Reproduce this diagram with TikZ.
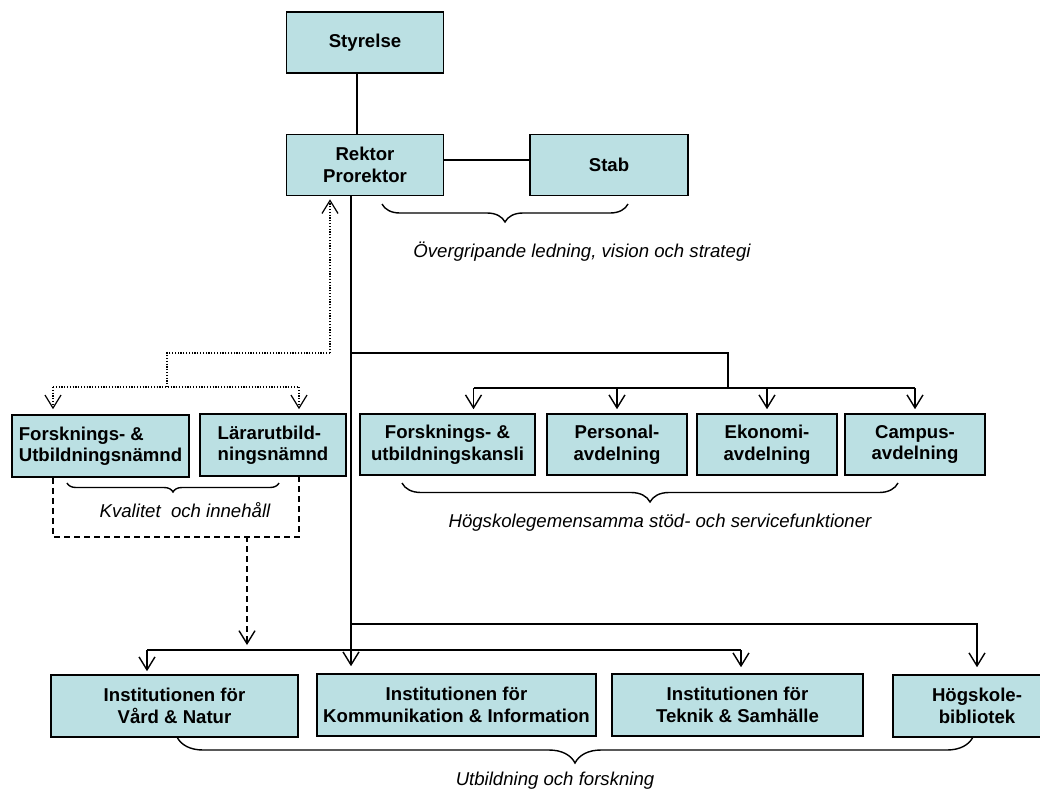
\documentclass[tikz,border=0pt]{standalone}
\usepackage{fontspec}
\setmainfont{Liberation Sans}
\usepackage{tikz}
\usetikzlibrary{arrows.meta, decorations.pathreplacing}
\definecolor{unitfill}{RGB}{187,224,227}
\tikzset{unit/.style={draw, line width=1.6pt, fill=unitfill, align=center, inner sep=2pt, font=\bfseries\fontsize{18.6}{21.5}\selectfont}}
\tikzset{link/.style={line width=1.4pt}}
\tikzset{feed/.style={line width=1.4pt, -{Straight Barb[length=13pt, width=16pt]}}}
\tikzset{advice/.style={line width=1.2pt, dash pattern=on 1.2pt off 1.6pt}}
\tikzset{review/.style={line width=1.4pt, dash pattern=on 6pt off 4pt}}
\tikzset{note/.style={font=\itshape\fontsize{18.6}{21.5}\selectfont}}
\tikzset{group/.style={decorate, line width=1.4pt, decoration={brace, mirror, amplitude=#1}}}
\tikzset{group/.default=18}

\begin{document}
\begin{tikzpicture}[x=1pt, y=-1pt]
            \useasboundingbox (0, 0) rectangle (1040, 790);
            \node[unit, minimum width=157, minimum height=61] (styrelse) at (365, 42.5) {Styrelse};
            \node[unit, minimum width=157, minimum height=61] (rektor) at (365, 165) {Rektor\\Prorektor};
            \node[unit, minimum width=158, minimum height=61] (stab) at (609, 165) {Stab};
            \node[unit, minimum width=177, minimum height=62, align=left] (fun) at (100.5, 446) {Forsknings- \&\\Utbildningsnämnd};
            \node[unit, minimum width=146, minimum height=62, align=left] (lun) at (273, 445) {Lärarutbild-\\ningsnämnd};
            \node[unit, minimum width=175, minimum height=61] (fuk) at (447.5, 444.5) {Forsknings- \&\\utbildningskansli};
            \node[unit, minimum width=140, minimum height=61] (pers) at (617, 444.5) {Personal-\\avdelning};
            \node[unit, minimum width=140, minimum height=61] (ekon) at (767, 444.5) {Ekonomi-\\avdelning};
            \node[unit, minimum width=140, minimum height=61] (camp) at (915, 444.5) {Campus-\\avdelning};
            \node[unit, minimum width=247, minimum height=62] (vard) at (174.5, 706) {Institutionen för\\Vård \& Natur};
            \node[unit, minimum width=279, minimum height=62] (komm) at (456.5, 705) {Institutionen för\\Kommunikation \& Information};
            \node[unit, minimum width=251, minimum height=62] (tekn) at (737.5, 705) {Institutionen för\\Teknik \& Samhälle};
            \node[unit, minimum width=168, minimum height=62] (bibl) at (977, 706) {Högskole-\\bibliotek};
            \coordinate (staff) at (351, 353);
            \coordinate (staffbus) at (728, 388);
            \coordinate (adv) at (330, 353);
            \coordinate (advbus) at (167, 387);
            \coordinate (rev) at (247, 536);
            \coordinate (lib) at (351, 624);
            \coordinate (instbus) at (147, 650);
            \draw[link] ([xshift=-8]styrelse.south) -- ([xshift=-8]rektor.north);
            \draw[link] ([yshift=5]rektor.east) -- ([yshift=5]stab.west);
            \draw[feed] ([xshift=-14]rektor.south) -- ([xshift=-105.5, yshift=7]komm.north);
            \draw[link] (staff) -| (staffbus);
            \draw[link] ([xshift=26]fuk.north |- staffbus) -- (camp.north |- staffbus);
            \foreach \n/\dx in {fuk/26, pers/0, ekon/0, camp/0} {
                \draw[feed] ([xshift=\dx]\n.north |- staffbus) -- ([xshift=\dx, yshift=4]\n.north);
            }
            \draw[feed, advice] (adv) -- ([xshift=-35, yshift=-3]rektor.south);
            \draw[advice] (adv) -| (advbus);
            \draw[advice] ([xshift=-47.5]fun.north |- advbus) -- ([xshift=26]lun.north |- advbus);
            \draw[feed, advice] ([xshift=-47.5]fun.north |- advbus) -- ([xshift=-47.5, yshift=5]fun.north);
            \draw[feed, advice] ([xshift=26]lun.north |- advbus) -- ([xshift=26, yshift=4]lun.north);
            \draw[review] ([xshift=-47.5]fun.south) -- ++(0, 59) -| ([xshift=26]lun.south);
            \draw[feed, review] (rev) -- ([yshift=5]rev |- instbus);
            \draw[feed] (lib) -| ([yshift=7]bibl.north);
            \draw[link] ([xshift=-27.5]vard.north |- instbus) -- ([xshift=3.5]tekn.north |- instbus);
            \draw[feed] ([xshift=-27.5]vard.north |- instbus) -- ([xshift=-27.5, yshift=3]vard.north);
            \draw[feed] ([xshift=3.5]tekn.north |- instbus) -- ([xshift=3.5, yshift=6]tekn.north);
            \draw[group=18] (382, 204) -- (628, 204);
            \draw[group=9] (67, 483) -- (279, 483);
            \draw[group=19] (402, 483) -- (898, 483);
            \draw[group=26] (177, 737) -- (973, 737);
            \node[note] (aim) at (582, 252) {Övergripande ledning, vision och strategi};
            \node[note] (quality) at (185, 510) {Kvalitet\ \ och innehåll};
            \node[note] (support) at (660, 523) {Högskolegemensamma stöd- och servicefunktioner};
            \node[note] (edu) at (555, 781) {Utbildning och forskning};
        \end{tikzpicture}
\end{document}
